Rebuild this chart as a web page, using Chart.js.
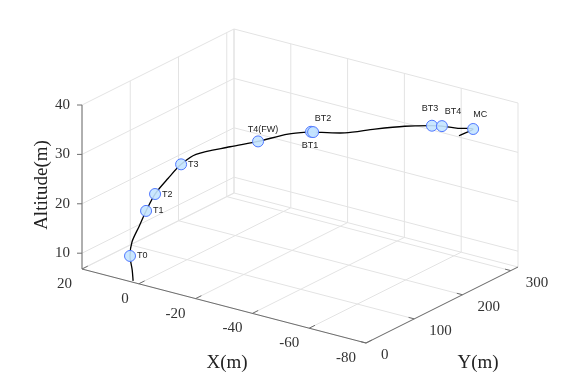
<!DOCTYPE html>
<html>
<head>
<meta charset="utf-8">
<script src="https://cdn.jsdelivr.net/npm/chart.js@4.4.1/dist/chart.umd.min.js"></script>
<style>
  html, body { margin: 0; padding: 0; background: #fff; }
  #wrap { width: 581px; height: 385px; }
</style>
</head>
<body>
<div id="wrap"><canvas id="myChart" width="581" height="385"></canvas></div>
<script>
// flight path (m)
const pathX = [2.0, 2.5, 3.6, 3.4, 1.9, 0.5, -1.3, -3.9, -6.4, -9.1, -16.0, -21.6, -27.9, -32.6, -33.0, -40.3, -46.6, -52.9, -58.7, -61.2, -65.5, -69.3, -65.5];
const pathY = [0, 1, 3, 6, 12, 18, 26, 38, 50, 65, 95, 120, 145, 165, 167, 190, 215, 240, 262, 268, 276, 285, 278];
const pathZ = [7.1, 9.2, 11.75, 14.5, 17.6, 20.6, 23.9, 26.9, 29.5, 31.2, 32.3, 33.0, 34.2, 34.4, 34.3, 34.1, 34.6, 34.9, 34.8, 34.8, 34.6, 34.6, 33.0];

// waypoints
const wpNames = ['T0', 'T1', 'T2', 'T3', 'T4(FW)', 'BT1', 'BT2', 'BT3', 'BT4', 'MC'];
const wpX = [3.6, 0.5, -1.3, -6.4, -21.6, -32.6, -33.0, -58.7, -61.2, -69.3];
const wpY = [3, 18, 26, 50, 120, 165, 167, 262, 268, 285];
const wpZ = [11.75, 20.6, 23.9, 29.5, 33.0, 34.4, 34.3, 34.8, 34.8, 34.6];

// axes
const xTicks = [20, 0, -20, -40, -60, -80];
const yTicks = [0, 100, 200, 300];
const zTicks = [10, 20, 30, 40];
const xLim = [-80, 20];
const yLim = [0, 315];
const zLim = [6.8, 40];

// where each waypoint label sits relative to its marker
const labelPos = {
  'T0': [7, 0, 'left'], 'T1': [7, 0, 'left'], 'T2': [7, 0, 'left'], 'T3': [7, 0, 'left'],
  'T4(FW)': [5, -12, 'center'], 'BT1': [-1, 14, 'center'], 'BT2': [10, -14, 'center'],
  'BT3': [-2, -17, 'center'], 'BT4': [11, -15, 'center'], 'MC': [7, -14, 'center']
};

// simple fixed-view projection of the 3d box onto the canvas
const origin = {x: 82, y: 269};
const ex = {x: 284, y: 74};
const ey = {x: 152, y: -76};
const ez = {x: 0, y: -164};
function proj(x, y, z) {
  const u = (xLim[1] - x) / (xLim[1] - xLim[0]);
  const v = (y - yLim[0]) / (yLim[1] - yLim[0]);
  const w = (z - zLim[0]) / (zLim[1] - zLim[0]);
  return {
    x: origin.x + u * ex.x + v * ey.x + w * ez.x,
    y: origin.y + u * ex.y + v * ey.y + w * ez.y
  };
}

// grid lines on floor and two back walls
const gridSegs = [];
const seg = (a, b) => gridSegs.push([proj(...a), proj(...b)]);
xTicks.forEach(x => {
  seg([x, yLim[0], zLim[0]], [x, yLim[1], zLim[0]]);
  seg([x, yLim[1], zLim[0]], [x, yLim[1], zLim[1]]);
});
yTicks.forEach(y => {
  seg([xLim[1], y, zLim[0]], [xLim[0], y, zLim[0]]);
  seg([xLim[1], y, zLim[0]], [xLim[1], y, zLim[1]]);
});
zTicks.forEach(z => {
  seg([xLim[1], yLim[0], z], [xLim[1], yLim[1], z]);
  seg([xLim[1], yLim[1], z], [xLim[0], yLim[1], z]);
});
seg([xLim[1], yLim[0], zLim[0]], [xLim[1], yLim[1], zLim[0]]);
seg([xLim[1], yLim[1], zLim[0]], [xLim[0], yLim[1], zLim[0]]);
seg([xLim[1], yLim[1], zLim[0]], [xLim[1], yLim[1], zLim[1]]);

const axisSegs = [
  [proj(xLim[1], yLim[0], zLim[0]), proj(xLim[0], yLim[0], zLim[0])],
  [proj(xLim[0], yLim[0], zLim[0]), proj(xLim[0], yLim[1], zLim[0])],
  [proj(xLim[1], yLim[0], zLim[0]), proj(xLim[1], yLim[0], zLim[1])]
];

const datasets = [];
datasets.push({
  data: wpX.map((x, i) => proj(x, wpY[i], wpZ[i])),
  showLine: false,
  pointRadius: 5.5,
  pointBackgroundColor: 'rgba(196,228,255,0.9)',
  pointBorderColor: 'rgb(80,120,255)',
  pointBorderWidth: 1,
  order: 0
});
datasets.push({
  data: pathX.map((x, i) => proj(x, pathY[i], pathZ[i])),
  showLine: true,
  borderColor: '#000',
  borderWidth: 1.3,
  pointRadius: 0,
  tension: 0.3,
  order: 1
});
axisSegs.forEach(s => datasets.push({
  data: s, showLine: true, borderColor: '#6e6e6e', borderWidth: 1, pointRadius: 0, order: 2
}));
gridSegs.forEach(s => datasets.push({
  data: s, showLine: true, borderColor: '#e3e3e3', borderWidth: 1, pointRadius: 0, order: 3
}));

const labelsPlugin = {
  id: 'labels3d',
  afterDatasetsDraw(chart) {
    const ctx = chart.ctx;
    const sx = chart.scales.x, sy = chart.scales.y;
    const px = p => ({x: sx.getPixelForValue(p.x), y: sy.getPixelForValue(p.y)});
    ctx.save();
    // tick marks
    ctx.strokeStyle = '#6e6e6e';
    ctx.lineWidth = 1;
    const tick = (a, b) => {
      ctx.beginPath();
      ctx.moveTo(a.x, a.y);
      ctx.lineTo(b.x, b.y);
      ctx.stroke();
    };
    xTicks.forEach(x => tick(px(proj(x, yLim[0], zLim[0])), px(proj(x, yLim[0] + 12, zLim[0]))));
    yTicks.forEach(y => tick(px(proj(xLim[0], y, zLim[0])), px(proj(xLim[0] + 2, y, zLim[0]))));
    zTicks.forEach(z => {
      const p = px(proj(xLim[1], yLim[0], z));
      tick(p, {x: p.x - 5, y: p.y});
    });

    // tick labels
    ctx.fillStyle = '#333';
    ctx.font = '15px "Liberation Serif", "Times New Roman", serif';
    ctx.textBaseline = 'middle';
    ctx.textAlign = 'right';
    zTicks.forEach(z => {
      const p = px(proj(xLim[1], yLim[0], z));
      ctx.fillText(String(z), p.x - 12, p.y);
    });
    xTicks.forEach(x => {
      const p = px(proj(x, yLim[0], zLim[0]));
      ctx.fillText(String(x), p.x - 10, p.y + 15);
    });
    ctx.textAlign = 'left';
    yTicks.forEach(y => {
      const p = px(proj(xLim[0], y, zLim[0]));
      ctx.fillText(String(y), p.x + 15, p.y + 12);
    });

    // axis titles
    ctx.fillStyle = '#222';
    ctx.font = '19px "Liberation Serif", "Times New Roman", serif';
    ctx.textAlign = 'center';
    ctx.fillText('X(m)', 227, 363);
    ctx.fillText('Y(m)', 478, 363);
    ctx.save();
    ctx.translate(42, 185);
    ctx.rotate(-Math.PI / 2);
    ctx.fillText('Altitude(m)', 0, 0);
    ctx.restore();

    // waypoint names
    ctx.font = '9px "Liberation Sans", Arial, sans-serif';
    ctx.fillStyle = '#222';
    wpNames.forEach((name, i) => {
      const p = px(proj(wpX[i], wpY[i], wpZ[i]));
      const o = labelPos[name];
      ctx.textAlign = o[2];
      ctx.fillText(name, p.x + o[0], p.y + o[1]);
    });
    ctx.restore();
  }
};

const ctx = document.getElementById('myChart').getContext('2d');
const myChart = new Chart(ctx, {
  type: 'scatter',
  data: { datasets: datasets },
  options: {
    responsive: false,
    animation: false,
    layout: { padding: 0, autoPadding: false },
    scales: {
      x: { type: 'linear', min: 0, max: 581, display: false },
      y: { type: 'linear', min: 0, max: 385, reverse: true, display: false }
    },
    plugins: {
      legend: { display: false },
      tooltip: { enabled: false }
    }
  },
  plugins: [labelsPlugin]
});
</script>
</body>
</html>
